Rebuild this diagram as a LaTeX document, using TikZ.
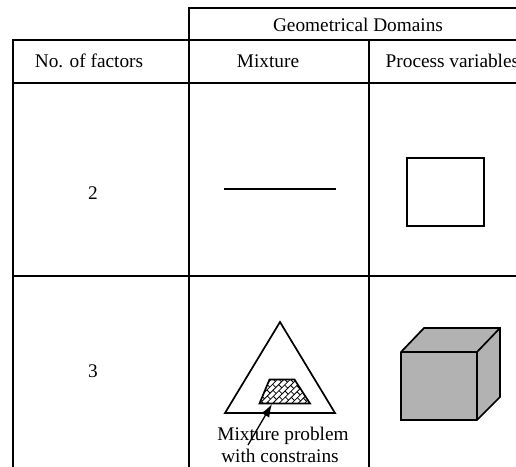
\documentclass[tikz,border=0pt]{standalone}
\usepackage{fontspec}
\setmainfont{Liberation Serif}
\usetikzlibrary{arrows.meta}
\tikzset{
  grid/.style={line width=2.5pt, line cap=rect},
  gridthin/.style={line width=1.9pt, line cap=rect},
  cell/.style={font=\fontsize{19.3}{22}\selectfont, inner sep=0pt},
  figline/.style={line width=1.7pt, line join=miter},
  hatch/.style={line width=0.8pt},
  pointer/.style={line width=1.3pt, -{Latex[length=13pt,width=9pt]}}
}
\begin{document}
\begin{tikzpicture}[x=1pt, y=-1pt]
\useasboundingbox (0,0) rectangle (516,466);

% heading box over the two domain columns
\draw[gridthin] (516,8) -- (189,8) -- (189,40);

% table rules
\draw[grid] (13,466) -- (13,40) -- (516,40);
\draw[grid] (13,83) -- (516,83);
\draw[grid] (13,276) -- (516,276);
\draw[grid] (189,40) -- (189,466);
\draw[grid] (369,40) -- (369,466);

% headings
\node[cell, anchor=base] (geo) at (358,31) {Geometrical Domains};
\node[cell, anchor=base] (nof) at (89,67) {No. of factors};
\node[cell, anchor=base] (mix) at (268,67) {Mixture};
\node[cell, anchor=base west] (proc) at (385.5,67) {Process variables};

% two factors
\node[cell] (two) at (93,193) {2};
\draw[figline] (224,189) -- (336,189);
\draw[figline] (407,158) rectangle (484,226);

% three factors
\node[cell] (three) at (93,371) {3};
\draw[figline] (280,322) -- (335,413) -- (225,413) -- cycle;

% constrained sub-region with brick hatching
\begin{scope}
  \clip (269.5,379.5) -- (294.5,379.5) -- (310,403.5) -- (259.5,403.5) -- cycle;
  \begin{scope}[shift={(285,391)}, rotate=45]
    \foreach \k in {-8,...,8} {
      \draw[hatch] (-40,\k*4.5) -- (40,\k*4.5);
      \foreach \m in {-6,...,6} {
        \pgfmathsetmacro{\off}{mod(\k+8,2)*4}
        \draw[hatch] (\m*8+\off,\k*4.5) -- ++(0,4.5);
      }
    }
  \end{scope}
\end{scope}
\draw[figline] (269.5,379.5) -- (294.5,379.5) -- (310,403.5) -- (259.5,403.5) -- cycle;

\node[cell, anchor=base] (lab1) at (283,440) {Mixture problem};
\node[cell, anchor=base] (lab2) at (280,462) {with constrains};
\coordinate (tail) at (248,445);
\coordinate (tip) at (272,404);
\draw[pointer] (tail) -- (tip);

% cube
\draw[figline, fill=black!30] (401,352) -- (424,328) -- (500,328) -- (500,397) -- (477,420) -- (401,420) -- cycle;
\draw[figline] (401,352) -- (477,352) -- (500,328);
\draw[figline] (477,352) -- (477,420);
\end{tikzpicture}
\end{document}
